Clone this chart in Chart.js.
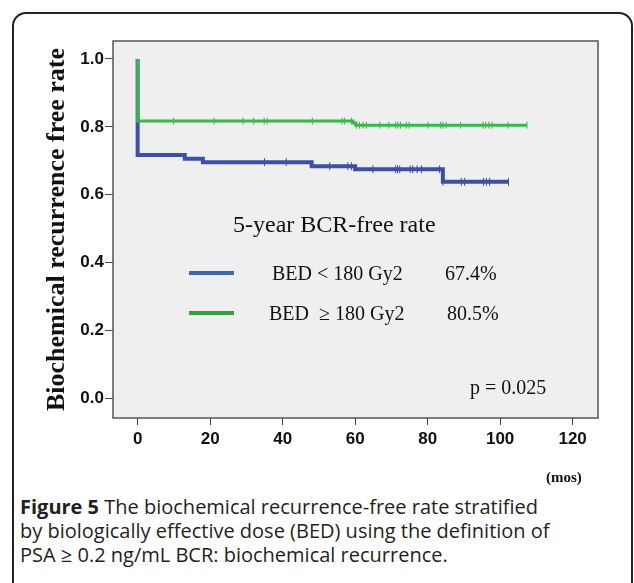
<!DOCTYPE html>
<html>
<head>
<meta charset="utf-8">
<script src="https://cdn.jsdelivr.net/npm/chart.js@4.4.1/dist/chart.umd.min.js"></script>
<style>
  body { margin: 0; background: #fff; }
  #wrap { position: relative; width: 634px; height: 583px; overflow: hidden; }
  #frame { position: absolute; left: 12px; top: 12px; width: 617px; height: 600px;
           border: 2px solid #222; border-radius: 14px; }
  #myChart { position: absolute; left: 0; top: 0; }
  .t { position: absolute; font-family: "Liberation Serif", "Times New Roman", serif;
       color: #111; white-space: nowrap; line-height: 1; }
  .key { position: absolute; height: 4px; width: 45px; }
  #caption { position: absolute; left: 20px; top: 495px; font-family: "Open Sans", sans-serif;
             font-size: 20px; line-height: 24px; color: #231f20; white-space: nowrap; }
</style>
</head>
<body>
<div id="wrap">
  <div id="frame"></div>
  <canvas id="myChart" width="634" height="470"></canvas>
  <div class="t" style="left:233px; top:212px; font-size:24px;">5-year BCR-free rate</div>
  <div class="key" style="left:189px; top:271px; background:#3d67a8;"></div>
  <div class="t" style="left:272px; top:263px; font-size:20px;">BED &lt; 180 Gy2</div>
  <div class="t" style="left:445px; top:263px; font-size:20px;">67.4%</div>
  <div class="key" style="left:189px; top:311px; background:#3a9e3e;"></div>
  <div class="t" style="left:269px; top:303px; font-size:20px;">BED &nbsp;≥ 180 Gy2</div>
  <div class="t" style="left:447px; top:303px; font-size:20px;">80.5%</div>
  <div class="t" style="left:470px; top:377px; font-size:20px;">p = 0.025</div>
  <div class="t" style="left:546px; top:470px; font-size:15px; font-weight:bold;">(mos)</div>
  <div id="caption"><b>Figure 5</b> The biochemical recurrence-free rate stratified<br>by biologically effective dose (BED) using the definition of<br>PSA ≥ 0.2 ng/mL BCR: biochemical recurrence.</div>
</div>
<script>
// Kaplan-Meier steps (months, survival)
const lowTimes = [0, 0, 13, 18, 48, 60, 84.2, 102.3];
const lowSurv = [1.0, 0.717, 0.706, 0.696, 0.684, 0.675, 0.638, 0.638];
const highTimes = [0, 0, 59.4, 60.2, 107.4];
const highSurv = [1.0, 0.817, 0.811, 0.805, 0.805];

// censored cases (months)
const lowCensor = [35.0, 41.0, 53.0, 58.0, 59.0, 64.9, 71.2, 71.7, 72.3, 75.2, 75.9, 77.1, 78.3,
  83.3, 84.2, 89.3, 90.2, 95.4, 96.2, 97.1, 102.3];
const highCensor = [9.9, 21.1, 29.1, 32.0, 34.9, 35.7, 48.2, 56.4, 57.1, 59.0, 60.3, 61.2, 62.2,
  63.1, 66.8, 69.3, 71.2, 71.8, 72.5, 74.1, 74.9, 80.1, 83.6, 84.2, 85.1, 89.1, 95.3, 96.0, 96.9,
  97.8, 102.2, 107.4];

const xTicks = [0, 20, 40, 60, 80, 100, 120];
const yTicks = [0.0, 0.2, 0.4, 0.6, 0.8, 1.0];

const blue = '#3d4fa6';
const green = '#3db54a';

function steps(times, surv) {
  return times.map((t, i) => ({ x: t, y: surv[i] }));
}
function survAt(times, surv, t) {
  let s = surv[0];
  for (let i = 0; i < times.length; i++) {
    if (times[i] <= t) s = surv[i];
  }
  return s;
}
function marks(censor, times, surv) {
  return censor.map(t => ({ x: t, y: survAt(times, surv, t) }));
}

const plotBox = {
  id: 'plotBox',
  beforeDraw(chart) {
    const { ctx, chartArea: a } = chart;
    ctx.save();
    ctx.fillStyle = '#efefef';
    ctx.fillRect(a.left, a.top, a.right - a.left, a.bottom - a.top);
    ctx.restore();
  },
  afterDraw(chart) {
    const { ctx, chartArea: a } = chart;
    ctx.save();
    ctx.strokeStyle = '#555';
    ctx.lineWidth = 1.5;
    ctx.strokeRect(a.left, a.top, a.right - a.left, a.bottom - a.top);
    ctx.restore();
  }
};

const ctx = document.getElementById('myChart');
new Chart(ctx, {
  type: 'line',
  data: {
    datasets: [
      {
        data: marks(highCensor, highTimes, highSurv),
        showLine: false,
        pointStyle: 'line',
        rotation: 90,
        pointRadius: 3.5,
        borderWidth: 1,
        borderColor: green
      },
      {
        data: steps(highTimes, highSurv),
        stepped: 'before',
        borderColor: green,
        borderWidth: 3,
        pointRadius: 0
      },
      {
        data: marks(lowCensor, lowTimes, lowSurv),
        showLine: false,
        pointStyle: 'line',
        rotation: 90,
        pointRadius: 4,
        borderWidth: 1,
        borderColor: blue
      },
      {
        data: steps(lowTimes, lowSurv),
        stepped: 'before',
        borderColor: blue,
        borderWidth: 4,
        pointRadius: 0
      }
    ]
  },
  options: {
    responsive: false,
    animation: false,
    layout: { padding: { top: 41, right: 36, left: 0, bottom: 0 } },
    plugins: { legend: { display: false }, tooltip: { enabled: false } },
    scales: {
      x: {
        type: 'linear',
        min: -6.8,
        max: 127,
        afterBuildTicks: s => { s.ticks = xTicks.map(v => ({ value: v })); },
        afterFit: s => { s.height = 52; },
        grid: { drawOnChartArea: false, drawTicks: true, tickLength: 7, color: '#444' },
        border: { display: false },
        ticks: {
          padding: 4,
          color: '#111',
          font: { family: 'Liberation Sans', weight: 'bold', size: 17 }
        }
      },
      y: {
        type: 'linear',
        min: -0.058,
        max: 1.053,
        afterBuildTicks: s => { s.ticks = yTicks.map(v => ({ value: v })); },
        afterFit: s => { s.width = 113; },
        grid: { drawOnChartArea: false, drawTicks: true, tickLength: 8, color: '#444' },
        border: { display: false },
        ticks: {
          padding: 1,
          color: '#111',
          font: { family: 'Liberation Sans', weight: 'bold', size: 17 },
          callback: v => v.toFixed(1)
        },
        title: {
          display: true,
          text: 'Biochemical recurrence free rate',
          color: '#111',
          padding: { top: 42, bottom: 0 },
          font: { family: 'Liberation Serif', weight: 'bold', size: 26 }
        }
      }
    }
  },
  plugins: [plotBox]
});
</script>
</body>
</html>
